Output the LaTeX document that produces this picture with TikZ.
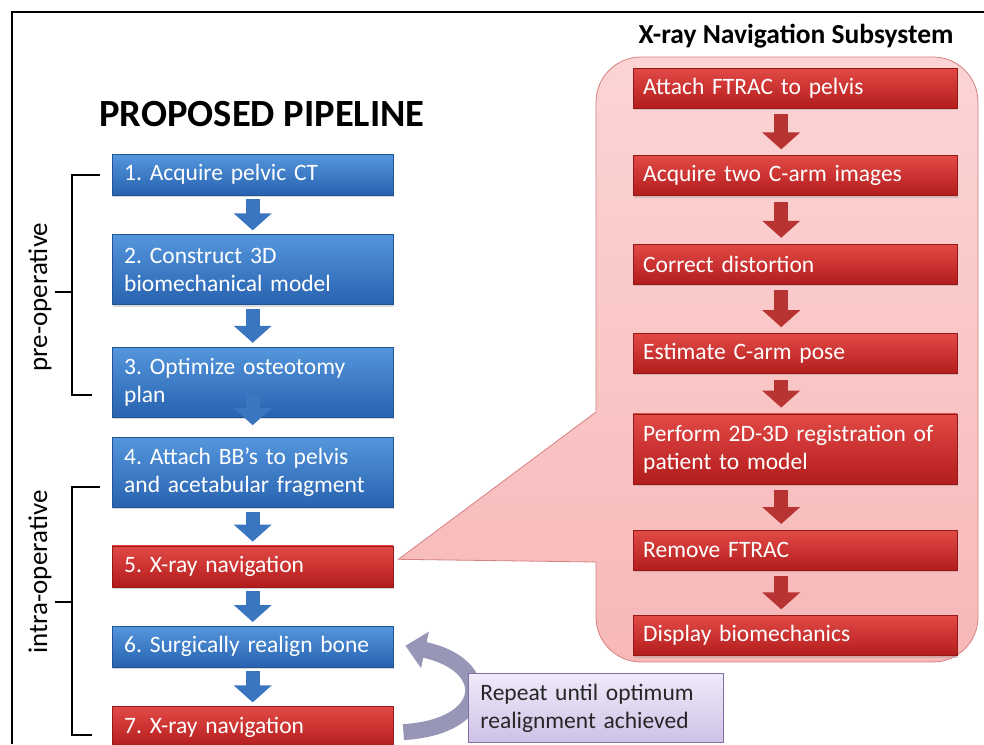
\documentclass[tikz,border=0pt]{standalone}
\usepackage{fontspec}
\setmainfont{Carlito}
\usetikzlibrary{positioning,arrows.meta,shadows}
\definecolor{blueT}{RGB}{84,150,220}
\definecolor{blueB}{RGB}{40,98,176}
\definecolor{redT}{RGB}{226,74,70}
\definecolor{redB}{RGB}{178,28,28}
\definecolor{arrblue}{RGB}{58,118,192}
\definecolor{arrred}{RGB}{184,52,50}
\definecolor{pinkT}{RGB}{252,212,212}
\definecolor{pinkB}{RGB}{247,184,184}
\definecolor{pinkdraw}{RGB}{214,128,128}
\definecolor{lilacT}{RGB}{240,234,250}
\definecolor{lilacB}{RGB}{206,194,230}
\definecolor{lilacdraw}{RGB}{126,112,160}
\definecolor{loopgray}{RGB}{152,150,182}
\tikzset{
  x=1pt,y=1pt,
  boxtxt/.style={font=\fontsize{23.5}{28}\selectfont,text=white},
  pipebox/.style={boxtxt,minimum height=41pt,text width=257pt,inner xsep=12pt,
    inner ysep=0pt,align=left,line width=0.4pt,
    drop shadow={opacity=.3,shadow xshift=1pt,shadow yshift=-2pt}},
  bluebox/.style={pipebox,top color=blueT,bottom color=blueB,draw=blueB!85!black},
  redbox/.style={pipebox,top color=redT,bottom color=redB,draw=redB!85!black},
  subbox/.style={redbox,minimum height=40pt,text width=304pt,inner xsep=10pt},
  blockarr/.style={line width=14pt,-{Triangle[width=37pt,length=17pt]}},
  bluearr/.style={blockarr,arrblue,shorten <=4pt,shorten >=4pt},
  redarr/.style={blockarr,arrred,shorten <=6pt,shorten >=6pt},
  callout/.style={top color=pinkT,bottom color=pinkB,draw=pinkdraw,line width=0.8pt},
  notebox/.style={font=\fontsize{23.5}{28}\selectfont,text=black!85,minimum height=69pt,
    text width=231pt,inner xsep=12pt,align=left,top color=lilacT,bottom color=lilacB,
    draw=lilacdraw,line width=0.8pt},
  loopback/.style={loopgray,line width=16pt,-{Triangle[width=36pt,length=20pt]}},
  brkt/.style={line width=1.4pt},
  sidelbl/.style={font=\fontsize{27}{30}\selectfont,rotate=90},
}
\frenchspacing
\begin{document}
\begin{tikzpicture}
  \useasboundingbox (0,0) rectangle (984,-744);
  \draw[line width=1.6pt] (12,-744) -- (12,-12) -- (984,-12);

  % left column
  \node[font=\fontsize{38.5}{42}\selectfont\bfseries] (title) at (262,-114) {PROPOSED PIPELINE};
  \node[bluebox,anchor=north west] (b1) at (112,-154) {1. Acquire pelvic CT};
  \node[bluebox,minimum height=70pt,below=39pt of b1] (b2) {2. Construct 3D\\biomechanical model};
  \node[bluebox,minimum height=70pt,below=42pt of b2] (b3) {3. Optimize osteotomy\\plan};
  \node[bluebox,minimum height=70pt,below=20pt of b3] (b4) {4. Attach BB's to pelvis\\and acetabular fragment};
  \node[redbox,below=38pt of b4] (b5) {5. X-ray navigation};
  \node[bluebox,below=39pt of b5] (b6) {6. Surgically realign bone};
  \node[redbox,below=39pt of b6] (b7) {7. X-ray navigation};

  \foreach \a/\b in {b1/b2,b2/b3,b4/b5,b5/b6,b6/b7}
    \draw[bluearr] (\a.south) -- (\b.north);
  \draw[blockarr,arrblue] ([yshift=22pt]b3.south) -- ([yshift=12pt]b4.north);

  % brackets
  \draw[brkt] (100,-175) -| (72,-395) -- (92,-395);
  \draw[brkt] (72,-292) -- (55,-292);
  \node[sidelbl] (preop) at (40,-297) {pre-operative};
  \draw[brkt] (100,-487) -| (72,-735) -- (92,-735);
  \draw[brkt] (72,-602) -- (55,-602);
  \node[sidelbl] (intraop) at (40,-572) {intra-operative};

  % subsystem callout
  \node[font=\fontsize{27.5}{30}\selectfont\bfseries] (subtitle) at (796,-36) {X-ray Navigation Subsystem};
  \draw[callout] ([xshift=5pt,yshift=7pt]b5.east) -- (596,-412) -- (596,-102)
    arc (180:90:45) -- (933,-57) arc (90:0:45) -- (978,-617)
    arc (0:-90:45) -- (641,-662) arc (-90:-180:45) -- (596,-562) -- cycle;

  \node[subbox,anchor=north west] (s1) at (633,-68) {Attach FTRAC to pelvis};
  \node[subbox,below=47pt of s1] (s2) {Acquire two C-arm images};
  \node[subbox,below=48pt of s2] (s3) {Correct distortion};
  \node[subbox,below=49pt of s3] (s4) {Estimate C-arm pose};
  \node[subbox,minimum height=70pt,below=40pt of s4] (s5) {Perform 2D-3D registration of\\patient to model};
  \node[subbox,below=46pt of s5] (s6) {Remove FTRAC};
  \node[subbox,below=45pt of s6] (s7) {Display biomechanics};

  \foreach \a/\b in {s1/s2,s2/s3,s3/s4,s4/s5,s5/s6,s6/s7}
    \draw[redarr] ([xshift=-14pt]\a.south) -- ([xshift=-14pt]\b.north);

  % repeat loop
  \draw[loopback] ([xshift=10pt,yshift=-5pt]b7.east) .. controls (490,-727) and (495,-665)
    .. ([xshift=12pt,yshift=1pt]b6.east);
  \node[notebox,anchor=north west] (rep) at (468,-673) {Repeat until optimum\\realignment achieved};
\end{tikzpicture}
\end{document}
